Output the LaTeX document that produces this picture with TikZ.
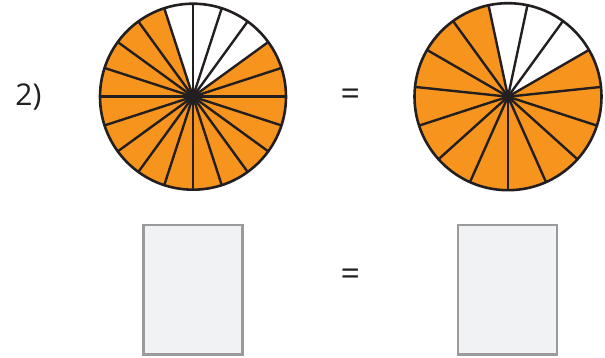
\documentclass[tikz,border=0pt]{standalone}
\usepackage{fontspec}
\setmainfont{Open Sans}
\definecolor{piefill}{HTML}{F7941D}
\definecolor{boxline}{HTML}{9B9B9E}
\definecolor{boxfill}{HTML}{F1F2F4}
\definecolor{ink}{HTML}{231F20}
\begin{document}
\begin{tikzpicture}[x=1pt,y=1pt,
  spoke/.style={draw=ink,line width=2.4pt},
  rim/.style={draw=ink,line width=2.6pt},
  answerbox/.style={draw=boxline,fill=boxfill,line width=2.3pt},
  eqsign/.style={font=\fontsize{34}{34}\selectfont,text=ink,inner sep=0pt},
  label/.style={font=\fontsize{30}{30}\selectfont,text=ink,inner sep=0pt}]
\useasboundingbox (0,0) rectangle (605,358);
% left pie: 20 sectors, 4 white (36..108 deg)
\begin{scope}[shift={(193,261.3)}]
  \fill[piefill] (0,0) -- (108:93) arc[start angle=108,end angle=396,radius=93] -- cycle;
  \foreach \a in {0,18,...,342} \draw[spoke] (0,0) -- (\a:93);
  \draw[rim] (0,0) circle[radius=93];
  \fill[ink] (0,0) circle[radius=5];
\end{scope}
% right pie: 15 sectors, 3 white (30..102 deg)
\begin{scope}[shift={(508,261.3)}]
  \fill[piefill] (0,0) -- (102:93.5) arc[start angle=102,end angle=390,radius=93.5] -- cycle;
  \foreach \a in {6,30,...,342} \draw[spoke] (0,0) -- (\a:93.5);
  \draw[rim] (0,0) circle[radius=93.5];
  \fill[ink] (0,0) circle[radius=5];
\end{scope}
\node[label] (num) at (28.5,261) {2)};
\node[eqsign] (eq1) at (350.3,260.5) {=};
\node[eqsign] (eq2) at (350.3,81) {=};
\draw[answerbox] (143.5,3.5) rectangle (242.5,133);
\draw[answerbox] (458.3,3.5) rectangle (557.3,133);
\end{tikzpicture}
\end{document}
